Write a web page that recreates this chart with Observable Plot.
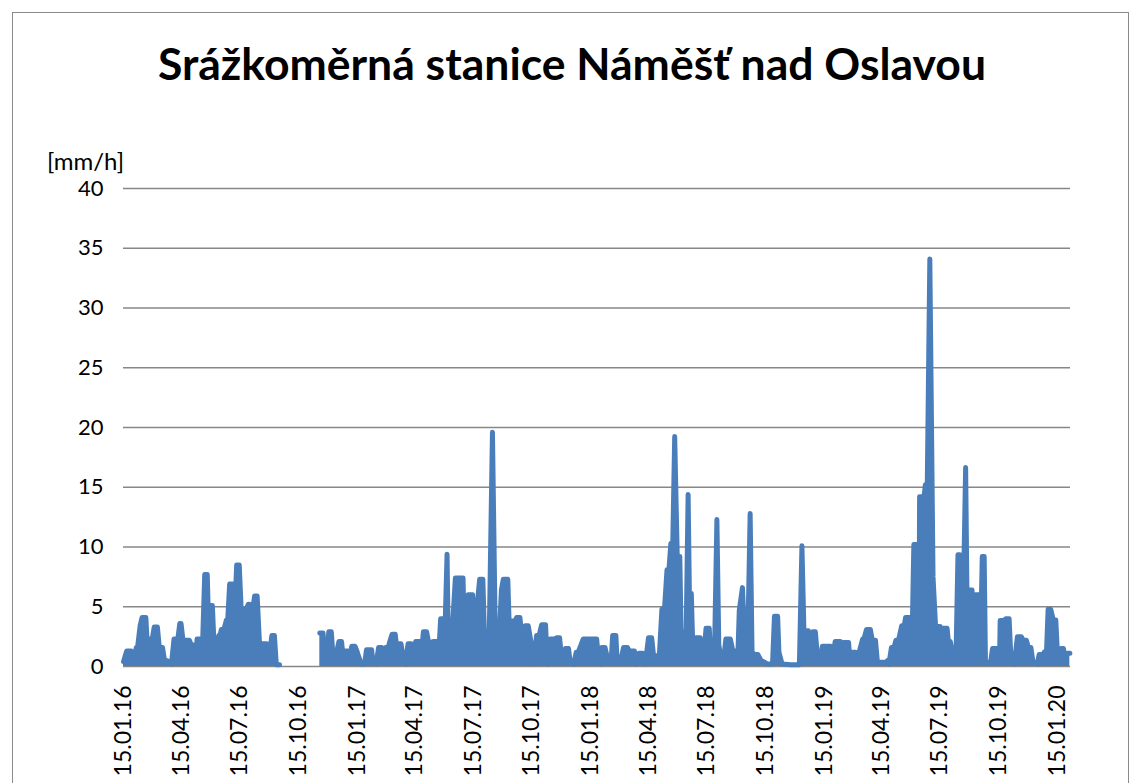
<!DOCTYPE html>
<html>
<head>
<meta charset="utf-8">
<script src="https://cdn.jsdelivr.net/npm/d3@7"></script>
<script src="https://cdn.jsdelivr.net/npm/@observablehq/plot@0.6"></script>
<style>
  body { margin: 0; background: #fff; width: 1132px; height: 783px; overflow: hidden; position: relative; font-family: Lato, "Open Sans", sans-serif; }
  #frame { position: absolute; left: 12px; top: 12px; width: 1117px; height: 820px; border: 1px solid #8a8a8a; box-sizing: border-box; }
  #title { position: absolute; top: 41px; left: 12px; width: 1120px; text-align: center; font: bold 44.5px Lato, sans-serif; line-height: 1; color: #000; }
  #chart { position: absolute; top: 140px; left: 0; }
  #chart svg { overflow: visible; }
</style>
</head>
<body>
<div id="frame"></div>
<div id="title">Srážkoměrná stanice Náměšť nad Oslavou</div>
<div id="chart"></div>
<script>
const yLabel = "[mm/h]";
const yTicks = [0, 5, 10, 15, 20, 25, 30, 35, 40];
const xTicks = ["2016-01-15","2016-04-15","2016-07-15","2016-10-15","2017-01-15","2017-04-15","2017-07-15","2017-10-15","2018-01-15","2018-04-15","2018-07-15","2018-10-15","2019-01-15","2019-04-15","2019-07-15","2019-10-15","2020-01-15"];
const xDomain = ["2016-01-15", "2020-02-04"];

const rain2016 = [
["2016-01-15",0.4],["2016-01-20",1.3],["2016-01-27",1.3],["2016-02-01",0.8],["2016-02-04",1.6],["2016-02-06",1.6],["2016-02-10",3.4],["2016-02-13",4.1],["2016-02-19",4.1],["2016-02-22",0.9],["2016-02-24",2.3],["2016-02-29",2.3],["2016-03-03",3.3],["2016-03-08",3.3],["2016-03-11",1.6],["2016-03-16",1.6],["2016-03-19",0.55],["2016-03-27",0.4],["2016-03-30",0.2],["2016-04-03",2.3],["2016-04-09",2.3],["2016-04-12",3.6],["2016-04-14",3.6],["2016-04-17",2.2],["2016-04-27",2.2],["2016-04-30",1.8],["2016-05-05",1.8],["2016-05-08",1.0],["2016-05-09",2.3],["2016-05-13",2.3],["2016-05-17",0.8],["2016-05-21",7.7],["2016-05-25",7.7],["2016-05-28",1.5],["2016-05-30",5.1],["2016-06-02",5.1],["2016-06-05",1.3],["2016-06-08",0.8],["2016-06-12",2.6],["2016-06-14",2.6],["2016-06-16",3.1],["2016-06-20",3.1],["2016-06-24",3.9],["2016-06-26",3.9],["2016-06-29",6.9],["2016-07-04",6.9],["2016-07-06",3.4],["2016-07-10",8.5],["2016-07-14",8.5],["2016-07-17",4.8],["2016-07-25",4.8],["2016-07-28",5.2],["2016-07-30",5.2],["2016-08-02",4.0],["2016-08-07",5.9],["2016-08-11",5.9],["2016-08-15",1.6],["2016-08-17",1.9],["2016-08-26",1.9],["2016-08-29",0.4],["2016-09-03",2.6],["2016-09-07",2.6],["2016-09-10",0.15],["2016-09-15",0.15],["2016-10-15",null],["2016-11-17",2.8],["2016-11-22",2.8],["2016-11-25",0.8],["2016-11-28",0.3],["2016-12-01",2.9],["2016-12-05",2.9],["2016-12-08",0.6],["2016-12-10",0.4],["2016-12-17",2.1],["2016-12-21",2.1],["2016-12-24",0.5],["2016-12-26",1.3],["2016-12-31",1.3]
];
const rain2017 = [
["2017-01-03",0.8],["2017-01-06",1.7],["2017-01-11",1.7],["2017-01-14",1.3],["2017-01-17",0.8],["2017-01-21",0.2],["2017-01-26",0.2],["2017-01-29",1.4],["2017-02-06",1.4],["2017-02-08",0.4],["2017-02-13",0.2],["2017-02-17",1.6],["2017-02-22",1.6],["2017-02-25",1.0],["2017-02-28",1.6],["2017-03-04",1.6],["2017-03-06",2.0],["2017-03-10",2.7],["2017-03-15",2.7],["2017-03-17",1.7],["2017-03-20",1.9],["2017-03-24",1.9],["2017-03-27",0.9],["2017-03-31",0.2],["2017-04-04",1.9],["2017-04-09",1.9],["2017-04-12",0.5],["2017-04-16",2.1],["2017-04-23",2.1],["2017-04-25",1.1],["2017-04-28",2.9],["2017-05-03",2.9],["2017-05-07",1.8],["2017-05-11",0.9],["2017-05-13",2.1],["2017-05-19",2.1],["2017-05-22",1.1],["2017-05-25",4.0],["2017-05-29",4.0],["2017-05-31",1.5],["2017-06-04",9.4],["2017-06-06",1.8],["2017-06-08",1.8],["2017-06-11",2.0],["2017-06-17",7.4],["2017-06-29",7.4],["2017-07-02",0.6],["2017-07-07",6.0],["2017-07-14",6.0],["2017-07-16",3.6],["2017-07-20",4.5],["2017-07-25",7.3],["2017-07-30",7.3],["2017-08-02",1.6],["2017-08-05",2.9],["2017-08-09",2.7],["2017-08-14",19.6],["2017-08-19",0.5],["2017-08-23",0.5],["2017-08-28",6.4],["2017-08-31",7.3],["2017-09-07",7.3],["2017-09-09",3.8],["2017-09-18",3.8],["2017-09-21",4.1],["2017-09-26",4.1],["2017-09-29",2.3],["2017-10-04",3.4],["2017-10-09",3.4],["2017-10-14",1.8],["2017-10-17",0.2],["2017-10-22",2.6],["2017-10-26",2.6],["2017-10-30",3.5],["2017-11-05",3.5],["2017-11-07",1.1],["2017-11-10",0.2],["2017-11-12",2.3],["2017-11-19",2.3],["2017-11-22",2.4],["2017-11-27",2.4],["2017-11-30",0.8],["2017-12-03",1.2],["2017-12-06",1.5],["2017-12-11",1.5],["2017-12-13",0.6],["2017-12-19",0.2],["2017-12-23",1.2],["2017-12-26",1.2],["2017-12-29",1.6]
];
const rain2018 = [
["2018-01-03",2.3],["2018-01-14",2.3],["2018-01-24",2.3],["2018-01-27",0.5],["2018-01-30",0.2],["2018-02-01",1.6],["2018-02-06",1.6],["2018-02-09",0.9],["2018-02-12",0.8],["2018-02-16",0.8],["2018-02-18",2.6],["2018-02-23",2.6],["2018-02-25",0.5],["2018-03-02",0.3],["2018-03-07",1.6],["2018-03-13",1.6],["2018-03-16",1.3],["2018-03-24",1.3],["2018-03-27",0.2],["2018-03-31",1.1],["2018-04-06",1.1],["2018-04-10",0.2],["2018-04-15",2.4],["2018-04-20",2.4],["2018-04-23",0.9],["2018-05-02",0.9],["2018-05-06",4.8],["2018-05-10",4.8],["2018-05-14",8.1],["2018-05-17",8.1],["2018-05-20",10.3],["2018-05-23",10.3],["2018-05-26",19.25],["2018-05-30",9.2],["2018-06-03",9.2],["2018-06-05",2.9],["2018-06-13",2.9],["2018-06-16",14.4],["2018-06-18",6.1],["2018-06-21",6.1],["2018-06-23",2.2],["2018-06-28",2.4],["2018-07-05",2.4],["2018-07-07",0.3],["2018-07-10",0.3],["2018-07-14",3.2],["2018-07-19",3.2],["2018-07-22",0.3],["2018-07-27",0.3],["2018-07-31",12.3],["2018-08-03",1.8],["2018-08-07",0.5],["2018-08-10",0.3],["2018-08-14",2.3],["2018-08-21",2.3],["2018-08-25",1.3],["2018-09-02",1.3],["2018-09-04",4.7],["2018-09-09",6.6],["2018-09-13",1.4],["2018-09-17",1.2],["2018-09-21",12.8],["2018-09-24",1.2],["2018-09-28",1.0],["2018-10-03",1.0],["2018-10-08",0.5],["2018-10-12",0.4],["2018-10-18",0.2],["2018-10-26",0.2],["2018-10-29",4.2],["2018-11-03",4.2],["2018-11-05",1.2],["2018-11-10",0.2],["2018-11-24",0.15],["2018-12-07",0.15],["2018-12-11",10.1],["2018-12-15",1.0],["2018-12-19",3.0],["2018-12-21",3.0],["2018-12-24",1.0],["2018-12-28",2.9]
];
const rain2019 = [
["2019-01-01",2.9],["2019-01-04",1.0],["2019-01-09",0.6],["2019-01-12",1.7],["2019-01-25",1.7],["2019-01-28",0.5],["2019-02-01",2.1],["2019-02-09",2.1],["2019-02-11",0.6],["2019-02-14",2.0],["2019-02-22",2.0],["2019-02-24",0.4],["2019-02-27",1.2],["2019-03-05",1.2],["2019-03-08",0.4],["2019-03-11",1.3],["2019-03-16",2.3],["2019-03-18",2.3],["2019-03-22",3.1],["2019-03-28",3.1],["2019-03-31",2.2],["2019-04-05",2.2],["2019-04-08",0.4],["2019-04-10",0.35],["2019-04-21",0.35],["2019-04-24",0.5],["2019-04-26",0.2],["2019-04-30",1.6],["2019-05-04",1.6],["2019-05-07",2.2],["2019-05-11",2.2],["2019-05-16",3.4],["2019-05-20",3.4],["2019-05-22",4.1],["2019-05-30",4.1],["2019-06-01",1.5],["2019-06-04",10.2],["2019-06-10",10.2],["2019-06-12",1.5],["2019-06-13",14.2],["2019-06-20",14.2],["2019-06-22",15.2],["2019-06-25",15.2],["2019-06-29",34.1],["2019-07-04",7.5],["2019-07-08",3.35],["2019-07-15",3.35],["2019-07-17",0.5],["2019-07-19",3.2],["2019-07-26",3.2],["2019-07-28",2.1],["2019-07-31",2.1],["2019-08-03",1.3],["2019-08-06",0.3],["2019-08-09",1.0],["2019-08-12",9.35],["2019-08-15",9.35],["2019-08-18",6.0],["2019-08-19",1.5],["2019-08-24",16.65],["2019-08-26",6.4],["2019-09-03",6.4],["2019-09-05",1.5],["2019-09-08",6.0],["2019-09-14",6.0],["2019-09-16",1.2],["2019-09-19",9.2],["2019-09-22",9.2],["2019-09-24",0.5],["2019-09-27",0.3],["2019-10-02",0.3],["2019-10-05",1.5],["2019-10-13",1.5],["2019-10-16",0.3],["2019-10-17",3.85],["2019-10-23",3.85],["2019-10-26",4.0],["2019-10-31",4.0],["2019-11-03",0.5],["2019-11-08",0.2],["2019-11-13",2.5],["2019-11-19",2.5],["2019-11-22",2.2],["2019-11-27",2.2],["2019-11-30",1.6],["2019-12-04",1.6],["2019-12-07",0.5],["2019-12-10",0.3],["2019-12-14",0.2],["2019-12-17",1.0],["2019-12-23",1.0],["2019-12-25",1.2],["2019-12-28",0.6],["2019-12-31",4.8]
];
const rain2020 = [
["2020-01-04",4.8],["2020-01-08",3.9],["2020-01-12",3.9],["2020-01-15",0.6],["2020-01-18",0.6],["2020-01-20",1.5],["2020-01-24",1.5],["2020-01-27",0.6],["2020-01-30",1.1],["2020-02-03",1.1]
];

const blue = "#4a7ebb";
const data = [...rain2016, ...rain2017, ...rain2018, ...rain2019, ...rain2020]
  .map(([d, v]) => ({date: new Date(d), value: v}));

const chart = Plot.plot({
  width: 1132,
  height: 643,
  marginLeft: 123,
  marginRight: 62,
  marginTop: 48,
  marginBottom: 117,
  style: {fontFamily: "Lato, sans-serif", fontSize: "22px", color: "#000", background: "transparent", overflow: "visible"},
  x: {type: "utc", domain: xDomain.map(d => new Date(d))},
  y: {domain: [0, 40]},
  marks: [
    Plot.gridY(yTicks, {stroke: "#878787", strokeOpacity: 1, strokeWidth: 1.4}),
    Plot.areaY(data, {x: "date", y1: 0, y2: "value", fill: blue, curve: "linear"}),
    Plot.lineY(data, {x: "date", y: "value", stroke: blue, strokeWidth: 5, strokeLinejoin: "round", strokeLinecap: "round", curve: "linear"}),
    Plot.axisY(yTicks, {tickSize: 0, tickPadding: 20, fontSize: 22, label: null}),
    Plot.axisX(xTicks.map(d => new Date(d)), {tickSize: 0, tickPadding: 19, tickRotate: -90, fontSize: 23, label: null, tickFormat: d3.utcFormat("%d.%m.%y")}),
    Plot.text([yLabel], {text: d => d, frameAnchor: "top-left", dx: -38, dy: -36, fontSize: 24, textAnchor: "middle"})
  ]
});
document.getElementById("chart").appendChild(chart);
</script>
</body>
</html>
